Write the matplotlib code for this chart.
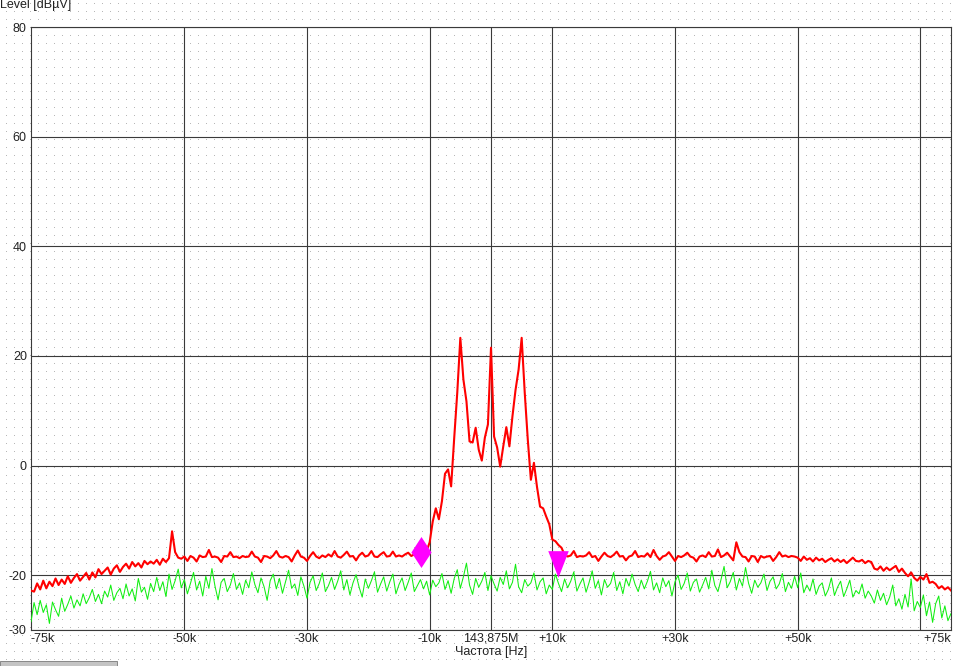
import numpy as np
import matplotlib
matplotlib.use("Agg")
import matplotlib.pyplot as plt
from matplotlib.patches import Rectangle

plt.rcParams['font.family'] = ['Liberation Sans', 'DejaVu Sans']

# frequency offset from 143,875 MHz, in kHz
freq_step = 0.5
freq_khz = np.arange(-75, 75 + freq_step / 2, freq_step)

# measured signal (red), dBuV
red_level = [
    -22.8, -23.0, -21.5, -22.6, -21.0, -22.4, -21.2, -22.0, -20.6, -21.8,
    -20.8, -21.6, -20.2, -21.4, -20.5, -19.8, -21.0, -20.3, -19.6, -20.8,
    -19.5, -20.4, -18.9, -19.8, -19.2, -18.6, -19.9, -18.8, -18.2, -19.4,
    -18.5, -17.9, -18.8, -17.6, -18.4, -17.8, -18.6, -17.4, -18.0, -17.5,
    -17.9, -17.2, -18.1, -17.0, -17.6, -16.9, -12.0, -15.8, -16.8, -17.0,
    -16.6, -17.4, -16.5, -16.8, -17.5, -16.4, -16.7, -16.6, -15.4, -16.7,
    -16.6, -16.8, -17.6, -16.5, -16.6, -15.8, -16.7, -16.6, -16.9, -16.5,
    -16.7, -16.6, -15.7, -16.6, -16.8, -17.6, -16.5, -16.6, -16.9, -16.4,
    -15.6, -16.6, -16.8, -16.5, -16.7, -17.5, -16.4, -15.5, -16.6, -16.8,
    -17.4, -16.5, -15.8, -16.6, -16.9, -16.4, -16.7, -16.2, -16.6, -15.6,
    -16.6, -16.8, -16.3, -15.7, -16.6, -16.5, -17.3, -16.4, -15.9, -16.6,
    -16.4, -15.6, -16.6, -16.7, -16.2, -15.8, -16.6, -16.5, -15.7, -16.6,
    -16.4, -16.6, -16.2, -15.9, -16.5, -16.2, -16.0, -16.5, -15.8, -15.6,
    -14.0, -10.2, -7.8, -9.8, -6.5, -1.5, -0.7, -3.8, 5.0, 13.3,
    23.3, 15.7, 11.7, 4.4, 4.2, 6.9, 2.9, 0.9, 5.1, 7.5,
    21.5, 5.3, 3.3, -0.2, 3.5, 7.0, 3.5, 9.0, 13.8, 17.5,
    23.3, 13.3, 4.7, -2.6, 0.5, -3.9, -7.5, -7.8, -9.3, -10.7,
    -13.5, -13.8, -14.5, -15.0, -16.3, -16.6, -16.4, -15.6, -16.7, -16.5,
    -16.6, -16.4, -15.8, -16.7, -16.5, -17.4, -16.6, -15.9, -16.5, -16.7,
    -16.3, -15.7, -16.6, -16.5, -17.3, -16.6, -16.4, -15.6, -16.7, -16.5,
    -16.6, -16.0, -16.7, -15.4, -16.5, -17.2, -16.6, -16.4, -15.8, -16.6,
    -17.4, -16.5, -16.7, -16.4, -15.9, -16.6, -16.8, -17.5, -16.6, -16.4,
    -16.7, -15.8, -16.6, -16.5, -15.3, -16.7, -16.4, -15.9, -16.6, -17.3,
    -14.0, -15.8, -16.6, -16.7, -17.5, -16.5, -16.6, -17.6, -16.5, -16.8,
    -16.6, -16.5, -17.4, -16.7, -15.8, -16.6, -16.4, -16.7, -16.5, -16.6,
    -16.8, -17.4, -16.6, -17.2, -16.9, -17.5, -16.8, -17.3, -17.0, -17.6,
    -17.2, -16.9, -17.5, -17.1, -17.6, -17.2, -17.8, -17.3, -16.8, -17.4,
    -17.5, -17.2, -17.8, -17.4, -17.6, -18.8, -19.0, -18.4, -19.2, -18.6,
    -19.1, -18.7, -18.3, -19.4, -18.8, -19.6, -20.2, -19.5, -20.5, -21.0,
    -20.3, -20.8, -19.8, -21.4, -21.2, -21.6, -22.4, -22.0, -22.6, -22.2,
    -22.8,
]

# noise floor (green), dBuV
green_level = [
    -28.5, -25.0, -27.2, -24.6, -26.8, -25.4, -28.8, -24.9, -26.3, -27.5,
    -24.2, -26.6, -25.3, -23.8, -26.0, -24.5, -25.6, -23.4, -25.2, -24.1,
    -22.6, -24.8, -23.5, -25.2, -22.9, -24.0, -21.8, -24.6, -23.2, -22.4,
    -24.3, -21.6, -23.8, -22.5, -24.7, -20.6, -23.1, -22.2, -24.4, -21.5,
    -23.0, -20.4, -22.8, -21.2, -23.9, -19.8, -22.6, -21.0, -18.9, -22.3,
    -20.8, -23.4, -21.5, -19.5, -22.7, -21.1, -23.8, -20.2, -22.4, -18.8,
    -22.0, -24.5, -21.3, -20.6, -23.0, -21.8, -19.7, -22.6, -21.4, -23.5,
    -20.9, -22.3, -19.4, -21.7, -23.2, -20.5, -22.1, -24.6, -21.0, -19.8,
    -22.5, -20.6, -23.3, -21.2, -19.1, -22.4, -21.6, -23.7, -20.3, -22.0,
    -24.2, -21.3, -20.1, -22.8, -21.5, -19.6, -23.0, -21.9, -20.4, -22.6,
    -21.1, -19.2, -22.7, -20.8, -23.6, -21.4, -19.9, -22.2, -24.0, -20.7,
    -22.4, -21.0, -19.4, -23.1, -21.6, -20.3, -22.9, -21.2, -19.8, -23.4,
    -21.7, -20.5, -22.8, -21.3, -19.6, -23.0, -21.9, -20.8, -22.5, -21.1,
    -23.6, -20.9, -22.1, -21.4, -19.7, -22.6, -21.0, -23.3, -20.6, -19.0,
    -22.4, -20.3, -17.8, -21.8, -23.5, -20.6, -22.2, -21.1, -19.5, -22.8,
    -20.1, -21.6, -22.9, -20.4, -21.7, -19.2, -22.5, -21.3, -18.0, -22.1,
    -23.2, -20.8, -22.0, -21.4, -19.6, -22.7, -21.2, -20.5, -23.4, -21.8,
    -22.6, -19.8, -21.5, -23.0, -20.7, -22.3, -21.1, -19.4, -22.9, -21.6,
    -20.5, -23.1, -21.3, -19.2, -22.4, -21.0, -23.6, -20.8, -22.2, -21.5,
    -19.5, -22.8, -21.2, -23.4, -20.6, -22.0, -19.8, -21.7, -23.0, -20.9,
    -22.5, -21.1, -19.3, -22.7, -21.4, -23.2, -20.5, -22.1, -21.0, -23.8,
    -21.2, -20.0, -22.6, -21.5, -19.6, -22.9, -21.3, -20.7, -23.1, -21.8,
    -20.4, -22.5, -19.1, -21.9, -23.0, -20.8, -18.4, -22.3, -21.2, -19.5,
    -22.7, -20.6, -22.0, -18.6, -21.5, -23.3, -20.9, -22.2, -21.4, -19.8,
    -22.8, -21.1, -20.3, -22.5, -21.6, -19.7, -23.0, -21.3, -22.4, -20.2,
    -22.3, -19.6, -23.2, -21.8, -22.9, -20.7, -23.5, -22.0, -21.4, -23.8,
    -22.6, -20.5, -23.7, -22.2, -21.1, -23.9, -22.5, -20.9, -24.0, -22.8,
    -23.4, -21.6, -24.2, -22.9, -23.8, -25.1, -22.7, -24.6, -23.3, -25.4,
    -24.0, -21.8, -25.6, -24.3, -26.2, -23.5, -25.8, -20.7, -26.5, -24.8,
    -25.9, -23.6, -27.4, -24.9, -28.6, -25.2, -23.8, -27.8, -25.6, -28.3,
    -27.0,
]

# markers (kHz, dBuV)
marker_left = (-11.4, -15.8)
marker_right = (10.9, -18.0)

xtick_pos = [-75, -50, -30, -10, 0, 10, 30, 50, 75]
xtick_labels = ['-75k', '-50k', '-30k', '-10k', '143,875M', '+10k', '+30k', '+50k', '+75k']
xgrid_pos = [-50, -30, -10, 0, 10, 30, 50, 70]
ytick_pos = [80, 60, 40, 20, 0, -20, -30]
ytick_labels = ['80', '60', '40', '20', '0', '-20', '-30']

W, H = 958, 666
fig = plt.figure(figsize=(W / 100, H / 100), dpi=100, facecolor='white')

# dotted background like the analyzer screen
bg = np.ones((H, W, 3))
bg[3::8, 6::8] = 0.72
fig.figimage(bg, xo=0, yo=0, origin='upper', zorder=-10)

ax = fig.add_axes([31 / W, 1 - 630 / H, 920 / W, 603 / H])
ax.set_facecolor('none')

grid_kw = dict(color='#3a3a3a', lw=0.8, zorder=1)
for g in xgrid_pos:
    ax.axvline(g, **grid_kw)
for g in ytick_pos:
    ax.axhline(g, **grid_kw)

ax.plot(freq_khz, green_level, color='#11ee11', lw=0.75, zorder=3)
ax.plot(freq_khz, red_level, color='#ff0000', lw=1.5, zorder=4)

diamond = [(0, 1), (0.65, 0), (0, -1), (-0.65, 0)]
tri_down = [(-10, 13), (10, 13), (0, -13)]
ax.plot(*marker_left, marker=diamond, ms=22.3, color='#ff00ff', mew=0, zorder=5)
ax.plot(*marker_right, marker=tri_down, ms=19.2, color='#ff00ff', mew=0, zorder=5)

ax.set_xlim(-75, 75)
ax.set_ylim(-30, 80)

ax.set_xticks(xtick_pos)
ax.set_xticklabels(xtick_labels)
xl = ax.get_xticklabels()
xl[0].set_ha('left')
xl[-1].set_ha('right')
ax.set_yticks(ytick_pos)
ax.set_yticklabels(ytick_labels)

ax.tick_params(which='both', length=0, labelsize=9, colors='#222222')
ax.tick_params(axis='x', pad=2)
ax.tick_params(axis='y', pad=3)
for s in ax.spines.values():
    s.set_color('#3a3a3a')
    s.set_linewidth(0.8)

ax.set_xlabel('Частота [Hz]', fontsize=9, color='#222222', labelpad=1)
fig.text(0, 1 - 8 / H, 'Level [dBµV]', fontsize=9, color='#222222',
         ha='left', va='baseline')

# scrollbar remnant at the bottom-left
fig.add_artist(Rectangle((0, 0), 117 / W, 5 / H, transform=fig.transFigure,
                         facecolor='#c4c4c4', edgecolor='#7a7a7a', lw=0.6))

fig.savefig('out.png', dpi=100)
